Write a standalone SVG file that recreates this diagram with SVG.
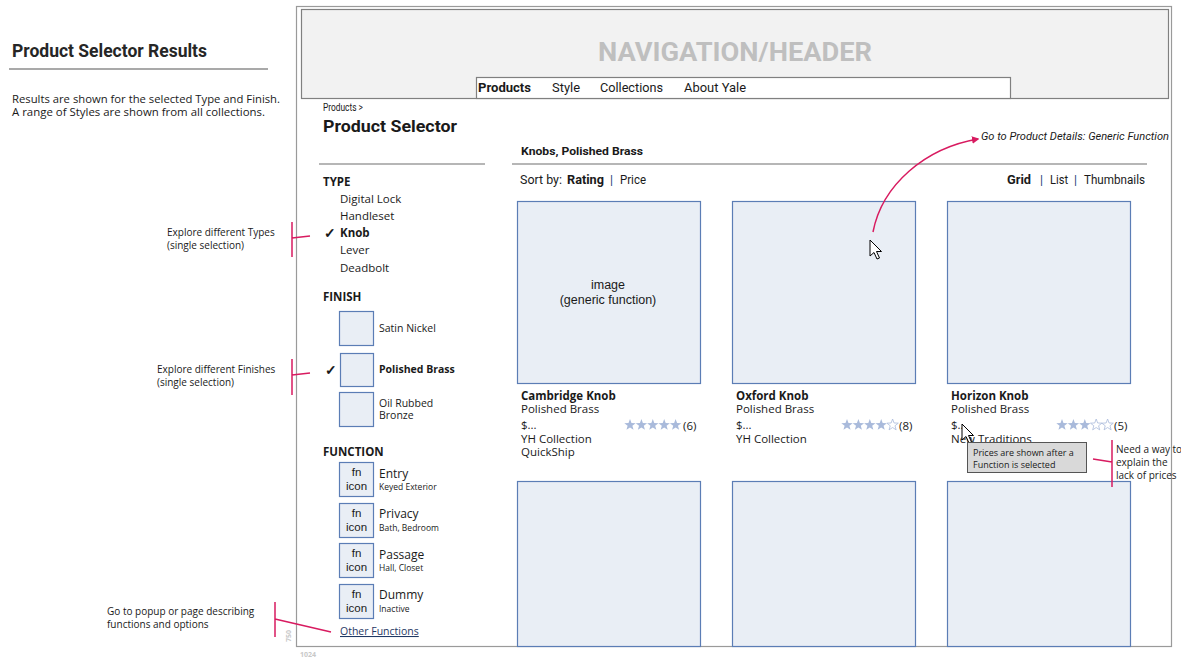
<svg xmlns="http://www.w3.org/2000/svg" width="1181" height="667" viewBox="0 0 1181 667">
<style>
  text { font-family: "Open Sans", "Noto Sans", "Liberation Sans", sans-serif; }
  .cond { font-family: "Liberation Sans Narrow", "Roboto", "Liberation Sans", sans-serif; }
  .fn { font-family: "Liberation Sans", "Open Sans", sans-serif; font-size: 11.5px; }
  .img { font-family: "Liberation Sans", "Open Sans", sans-serif; font-size: 12.5px; }
  .note { font-size: 10px; }
  .item { font-size: 11.5px; }
  .bold { font-weight: bold; }
  .small { font-size: 8.5px; }
  .card { fill: #e9eef5; stroke: #5b7db5; stroke-width: 1.2; }
  .swatch { fill: #e9eef5; stroke: #5b7db5; stroke-width: 1.2; }
  .pink { stroke: #d81b60; stroke-width: 1.5; fill: none; }
  .gray { stroke: #6e6e6e; stroke-width: 1.2; }
  .starf { fill: #a9badb; }
  .stare { fill: none; stroke: #a9badb; stroke-width: 0.8; }
  .pipe { fill: #1f3f75; }
  .dim { fill: #c8c8c8; }
</style>
<defs>
  <polygon id="star" points="0,-6 1.47,-2.02 5.71,-1.85 2.38,0.77 3.53,4.85 0,2.5 -3.53,4.85 -2.38,0.77 -5.71,-1.85 -1.47,-2.02"/>
  <polygon id="cursor" points="0,0 0,16 4,12.5 7,19 9.5,18 6.5,11.5 11.5,11.5" fill="#ffffff" stroke="#000000" stroke-width="1"/>
  <marker id="arrowhead" viewBox="0 0 10 10" refX="8" refY="5" markerWidth="5" markerHeight="5" orient="auto" markerUnits="strokeWidth">
    <path d="M0,0 L10,5 L0,10 z" fill="#d81b60"/>
  </marker>
</defs>
<rect x="0" y="0" width="1181" height="667" fill="#ffffff"/>
<g fill="#1a1a1a">

<!-- Left annotations -->
<g id="title">
  <text x="12" y="57" class="cond" font-size="19" font-weight="bold" textLength="195" lengthAdjust="spacingAndGlyphs" fill="#262626">Product Selector Results</text>
  <line x1="9" y1="69" x2="268" y2="69" stroke="#555" stroke-width="1.2"/>
  <text x="12" y="103" class="note" textLength="268" lengthAdjust="spacingAndGlyphs">Results are shown for the selected Type and Finish.</text>
  <text x="12" y="116" class="note" textLength="253" lengthAdjust="spacingAndGlyphs">A range of Styles are shown from all collections.</text>
</g>
<g id="note-types">
  <text x="167" y="236" class="note">Explore different Types</text>
  <text x="167" y="249" class="note">(single selection)</text>
</g>
<g id="note-finishes">
  <text x="157" y="373" class="note">Explore different Finishes</text>
  <text x="157" y="386" class="note">(single selection)</text>
</g>
<g id="note-functions">
  <text x="107" y="615" class="note">Go to popup or page describing</text>
  <text x="107" y="628" class="note">functions and options</text>
</g>

<!-- Page frame -->
<g id="frame">
  <rect x="296.5" y="6.5" width="875" height="640" fill="none" stroke="#9a9a9a" stroke-width="1.2"/>
  <text x="291" y="642" font-size="7" class="dim" transform="rotate(-90 291 642)" font-weight="bold">750</text>
  <text x="300" y="657" font-size="7" class="dim" font-weight="bold">1024</text>
</g>

<g id="header">
  <rect x="301.5" y="9.5" width="867" height="89" fill="#f2f2f2" stroke="#808080" stroke-width="1.2"/>
  <text x="735" y="61" class="cond dim" font-size="26" font-weight="bold" style="fill:#bfbfbf" text-anchor="middle" textLength="274" lengthAdjust="spacingAndGlyphs">NAVIGATION/HEADER</text>
</g>
<g id="nav">
  <rect x="476.5" y="77.5" width="534" height="21" fill="#ffffff" stroke="#808080" stroke-width="1.2"/>
  <text x="478" y="92" class="cond bold" font-size="13" textLength="53" lengthAdjust="spacingAndGlyphs">Products</text>
  <text x="552" y="92" class="cond" font-size="13" textLength="28" lengthAdjust="spacingAndGlyphs">Style</text>
  <text x="600" y="92" class="cond" font-size="13" textLength="63" lengthAdjust="spacingAndGlyphs">Collections</text>
  <text x="684" y="92" class="cond" font-size="13" textLength="62" lengthAdjust="spacingAndGlyphs">About Yale</text>
</g>

<g id="breadcrumb">
  <text x="323" y="111" class="cond" font-size="10" textLength="40" lengthAdjust="spacingAndGlyphs">Products &gt;</text>
  <text x="323" y="132" class="cond bold" font-size="17" textLength="134" lengthAdjust="spacingAndGlyphs">Product Selector</text>
</g>

<!-- Left filter panel -->
<g id="filter-type">
  <line x1="319" y1="164" x2="485" y2="164" class="gray"/>
  <text x="323" y="186" font-size="11.5" class="bold">TYPE</text>
  <text x="340" y="203" class="item">Digital Lock</text>
  <text x="340" y="220" class="item">Handleset</text>
  <text x="324" y="238" font-size="14" font-family="DejaVu Sans, sans-serif" font-weight="bold">✓</text>
  <text x="340" y="237" class="item bold">Knob</text>
  <text x="340" y="254" class="item">Lever</text>
  <text x="340" y="272" class="item">Deadbolt</text>
</g>
<g id="filter-finish">
  <text x="323" y="301" font-size="11.5" class="bold">FINISH</text>
  <rect x="339.5" y="311.5" width="34" height="34" class="swatch"/>
  <text x="379" y="332" font-size="10.5">Satin Nickel</text>
  <text x="325" y="375" font-size="14" font-family="DejaVu Sans, sans-serif" font-weight="bold">✓</text>
  <rect x="340.5" y="353.5" width="33" height="33" class="swatch" stroke-width="3"/>
  <text x="379" y="373" font-size="10.5" class="bold">Polished Brass</text>
  <rect x="339.5" y="392.5" width="34" height="34" class="swatch"/>
  <text x="379" y="407" font-size="10.5">Oil Rubbed</text>
  <text x="379" y="419" font-size="10.5">Bronze</text>
</g>
<g id="filter-function">
  <text x="323" y="456" font-size="11.5" class="bold">FUNCTION</text>
  <rect x="339.5" y="462.5" width="34" height="34" class="swatch"/>
  <text x="356.5" y="476" class="fn" text-anchor="middle">fn</text>
  <text x="356.5" y="490" class="fn" text-anchor="middle">icon</text>
  <text x="379" y="478" font-size="12">Entry</text>
  <text x="379" y="490" class="small">Keyed Exterior</text>

  <rect x="339.5" y="503.5" width="34" height="34" class="swatch"/>
  <text x="356.5" y="517" class="fn" text-anchor="middle">fn</text>
  <text x="356.5" y="531" class="fn" text-anchor="middle">icon</text>
  <text x="379" y="518" font-size="12">Privacy</text>
  <text x="379" y="531" class="small">Bath, Bedroom</text>

  <rect x="339.5" y="543.5" width="34" height="34" class="swatch"/>
  <text x="356.5" y="557" class="fn" text-anchor="middle">fn</text>
  <text x="356.5" y="571" class="fn" text-anchor="middle">icon</text>
  <text x="379" y="559" font-size="12">Passage</text>
  <text x="379" y="571" class="small">Hall, Closet</text>

  <rect x="339.5" y="584.5" width="34" height="34" class="swatch"/>
  <text x="356.5" y="598" class="fn" text-anchor="middle">fn</text>
  <text x="356.5" y="612" class="fn" text-anchor="middle">icon</text>
  <text x="379" y="599" font-size="12">Dummy</text>
  <text x="379" y="612" class="small">Inactive</text>

  <text x="340" y="635" font-size="10.5" fill="#1f3864" text-decoration="underline">Other Functions</text>
</g>

<!-- Results area -->
<g id="results-bar">
  <text x="521" y="155" class="cond bold" font-size="11.5" textLength="122" lengthAdjust="spacingAndGlyphs">Knobs, Polished Brass</text>
  <line x1="512" y1="164" x2="1147" y2="164" class="gray"/>
  <text x="520" y="184" class="cond" font-size="12" textLength="42" lengthAdjust="spacingAndGlyphs">Sort by:</text>
  <text x="567" y="184" class="cond bold" font-size="12" textLength="37" lengthAdjust="spacingAndGlyphs">Rating</text>
  <text x="610" y="184" class="cond pipe" font-size="12">|</text>
  <text x="620" y="184" class="cond" font-size="12" textLength="26" lengthAdjust="spacingAndGlyphs">Price</text>
  <text x="1007" y="184" class="cond bold" font-size="12" textLength="24" lengthAdjust="spacingAndGlyphs">Grid</text>
  <text x="1040" y="184" class="cond pipe" font-size="12">|</text>
  <text x="1050" y="184" class="cond" font-size="12" textLength="18" lengthAdjust="spacingAndGlyphs">List</text>
  <text x="1074" y="184" class="cond pipe" font-size="12">|</text>
  <text x="1084" y="184" class="cond" font-size="12" textLength="61" lengthAdjust="spacingAndGlyphs">Thumbnails</text>
  <text x="981" y="140" class="cond" font-size="11" font-style="italic" textLength="188" lengthAdjust="spacingAndGlyphs">Go to Product Details: Generic Function</text>
</g>

<g id="card-cambridge">
  <rect x="517.5" y="201.5" width="183" height="182" class="card"/>
  <text x="608" y="289" class="img" text-anchor="middle">image</text>
  <text x="608" y="304" class="img" text-anchor="middle">(generic function)</text>
  <text x="521" y="400" font-size="11.5" class="bold">Cambridge Knob</text>
  <text x="521" y="413" font-size="11.5">Polished Brass</text>
  <text x="521" y="429" font-size="11.5">$...</text>
  <text x="521" y="443" font-size="11.5">YH Collection</text>
  <text x="521" y="456" font-size="11.5">QuickShip</text>
  <use href="#star" x="630" y="425" class="starf"/>
  <use href="#star" x="641.4" y="425" class="starf"/>
  <use href="#star" x="652.8" y="425" class="starf"/>
  <use href="#star" x="664.2" y="425" class="starf"/>
  <use href="#star" x="675.6" y="425" class="starf"/>
  <text x="683" y="430" font-size="11.5">(6)</text>
</g>
<g id="card-oxford">
  <rect x="732.5" y="201.5" width="183" height="182" class="card"/>
  <text x="736" y="400" font-size="11.5" class="bold">Oxford Knob</text>
  <text x="736" y="413" font-size="11.5">Polished Brass</text>
  <text x="736" y="429" font-size="11.5">$...</text>
  <text x="736" y="443" font-size="11.5">YH Collection</text>
  <use href="#star" x="847" y="425" class="starf"/>
  <use href="#star" x="858.4" y="425" class="starf"/>
  <use href="#star" x="869.8" y="425" class="starf"/>
  <use href="#star" x="881.2" y="425" class="starf"/>
  <use href="#star" x="892.6" y="425" class="stare"/>
  <text x="899" y="430" font-size="11.5">(8)</text>
</g>
<g id="card-horizon">
  <rect x="947.5" y="201.5" width="183" height="182" class="card"/>
  <text x="951" y="400" font-size="11.5" class="bold">Horizon Knob</text>
  <text x="951" y="413" font-size="11.5">Polished Brass</text>
  <text x="951" y="429" font-size="11.5">$...</text>
  <text x="951" y="443" font-size="11.5">New Traditions</text>
  <use href="#star" x="1062" y="425" class="starf"/>
  <use href="#star" x="1073.4" y="425" class="starf"/>
  <use href="#star" x="1084.8" y="425" class="starf"/>
  <use href="#star" x="1096.2" y="425" class="stare"/>
  <use href="#star" x="1107.6" y="425" class="stare"/>
  <text x="1114" y="430" font-size="11.5">(5)</text>
</g>
<g id="card-row2">
  <rect x="517.5" y="481.5" width="183" height="165" class="card"/>
  <rect x="732.5" y="481.5" width="183" height="165" class="card"/>
  <rect x="947.5" y="481.5" width="183" height="165" class="card"/>
</g>

<g id="tooltip">
  <use href="#cursor" x="962" y="424"/>
  <rect x="967.5" y="442.5" width="119" height="30" fill="#d9d9d9" stroke="#555" stroke-width="1"/>
  <text x="973" y="456" font-size="9">Prices are shown after a</text>
  <text x="973" y="468" font-size="9">Function is selected</text>
</g>
<g id="note-prices">
  <text x="1116" y="453" class="note">Need a way to</text>
  <text x="1116" y="466" class="note">explain the</text>
  <text x="1116" y="479" class="note">lack of prices</text>
</g>

<use href="#cursor" x="870" y="240"/>

<!-- Connectors -->
<g id="connectors">
  <path class="pink" d="M292,222 L292,257 M292,238 L310,236"/>
  <path class="pink" d="M292,359 L292,395 M292,375 L310,373"/>
  <path class="pink" d="M275,602 L275,637 M275,619 L331,632"/>
  <path class="pink" d="M1112,440 L1112,487 M1093,459 L1112,462"/>
  <path class="pink" stroke-width="2.2" d="M873,232 C882,185 925,148 978,139" marker-end="url(#arrowhead)"/>
</g>
</g>
</svg>
